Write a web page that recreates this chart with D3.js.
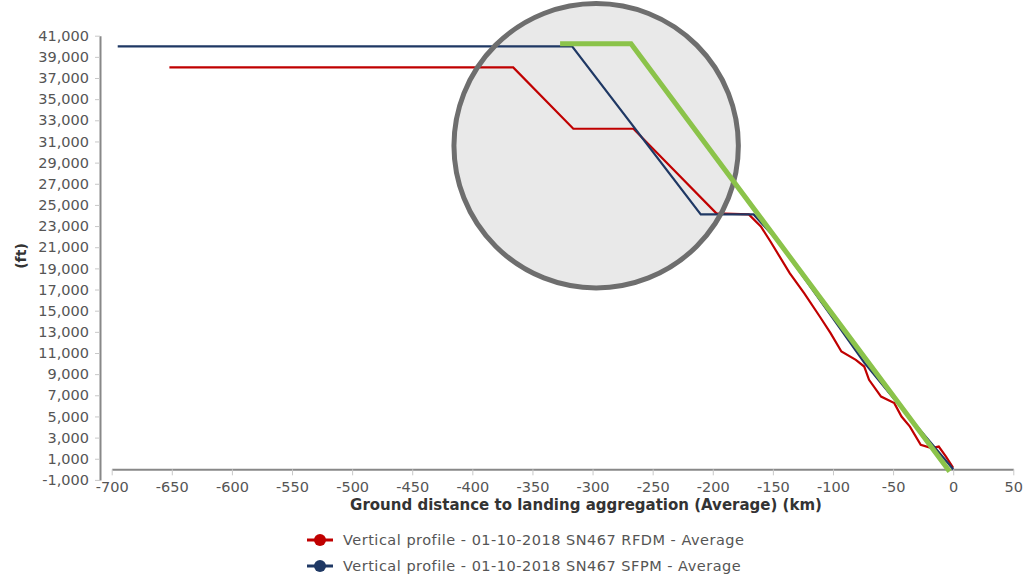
<!DOCTYPE html>
<meta charset="utf-8">
<style>
body { margin: 0; background: #fff; }
text { font-family: "DejaVu Sans", Verdana, sans-serif; }
.tick text { fill: #555; font-size: 14.5px; }
.tick line { stroke: #c8c8c8; }
</style>
<body>
<script src="https://cdn.jsdelivr.net/npm/d3@7"></script>
<script>

// series (km, ft)
var rfdmX = [-652, -600, -550, -500, -450, -400, -366, -316, -266, -197, -170, -160, -152, -136, -124, -111, -102, -93, -81, -74, -70, -60, -49, -43, -36, -27, -18, -12, -6, 0];
var rfdmY = [38000, 38000, 38000, 38000, 38000, 38000, 38000, 32200, 32200, 24200, 24100, 22960, 21540, 18550, 16660, 14450, 12880, 11140, 10350, 9720, 8460, 6880, 6260, 4990, 4040, 2310, 2000, 2150, 1200, 150];

var sfpmX = [-695, -660, -627, -564, -544, -514, -317, -210, -166, -146, -99, -74, -40, 0];
var sfpmY = [40000, 40000, 40000, 40000, 40000, 40000, 40000, 24100, 24100, 21600, 14100, 10100, 5400, 0];

// hand drawn annotation over the chart
var markX = [-327, -268, -3];
var markY = [40250, 40250, -200];
var calloutX = -297, calloutY = 30600, calloutR = 118.3; // r in km

var xTicks = d3.range(-700, 51, 50);
var yTicks = d3.range(-1000, 41001, 2000);

var seriesNames = ["Vertical profile - 01-10-2018 SN467 RFDM - Average",
                   "Vertical profile - 01-10-2018 SN467 SFPM - Average"];
var seriesColors = ["#c00000", "#1f3864"];

var width = 1033, height = 579;

var x = d3.scaleLinear().domain([-700, 50]).range([111.7, 1013.3]);
var y = d3.scaleLinear().domain([-1000, 41000]).range([479.9, 35.7]);

// plain hyphen for negatives, like the original
var fmt = d3.format(",");
function hyph(d) { return fmt(d).replace("\u2212", "-"); }

var svg = d3.select("body").append("svg")
    .attr("width", width)
    .attr("height", height);

// y axis
var yAxis = svg.append("g")
    .attr("transform", "translate(100,0)")
    .call(d3.axisLeft(y).tickValues(yTicks).tickFormat(hyph).tickSize(5).tickSizeOuter(0).tickPadding(6));
yAxis.select(".domain").attr("stroke", "#888").attr("stroke-width", 2);

// x axis sits on 0 ft
var xAxis = svg.append("g")
    .attr("transform", "translate(0," + y(0) + ")")
    .call(d3.axisBottom(x).tickValues(xTicks).tickFormat(hyph).tickSize(6).tickSizeOuter(0).tickPadding(6));
xAxis.select(".domain").attr("stroke", "#888").attr("stroke-width", 2);

svg.append("text")
    .attr("x", 586).attr("y", 510)
    .attr("text-anchor", "middle")
    .style("font-size", "15px").style("font-weight", "bold").attr("fill", "#333")
    .text("Ground distance to landing aggregation (Average) (km)");

svg.append("text")
    .attr("transform", "translate(26,256) rotate(-90)")
    .attr("text-anchor", "middle")
    .style("font-size", "14px").style("font-weight", "bold").attr("fill", "#333")
    .text("(ft)");

var cr = x(calloutX + calloutR) - x(calloutX);

// callout fill under the lines
svg.append("circle")
    .attr("cx", x(calloutX)).attr("cy", y(calloutY)).attr("r", cr)
    .attr("fill", "#e9e9e9");

var line = d3.line()
    .x(function(d) { return x(d[0]); })
    .y(function(d) { return y(d[1]); });

var series = [d3.zip(rfdmX, rfdmY), d3.zip(sfpmX, sfpmY)];

svg.selectAll(".series")
    .data(series)
  .enter().append("path")
    .attr("class", "series")
    .attr("fill", "none")
    .attr("stroke", function(d, i) { return seriesColors[i]; })
    .attr("stroke-width", 2.2)
    .attr("d", line);

svg.append("circle")
    .attr("cx", x(calloutX)).attr("cy", y(calloutY)).attr("r", cr)
    .attr("fill", "none")
    .attr("stroke", "#6e6e6e")
    .attr("stroke-width", 5);

svg.append("path")
    .datum(d3.zip(markX, markY))
    .attr("fill", "none")
    .attr("stroke", "#8bc34a")
    .attr("stroke-width", 5)
    .attr("d", line);

// legend
var legend = svg.selectAll(".legend")
    .data(seriesNames)
  .enter().append("g")
    .attr("class", "legend")
    .attr("transform", function(d, i) { return "translate(307," + (540 + i * 26) + ")"; });

legend.append("line")
    .attr("x1", 0).attr("x2", 26)
    .attr("stroke", function(d, i) { return seriesColors[i]; })
    .attr("stroke-width", 3);
legend.append("circle")
    .attr("cx", 13).attr("r", 6)
    .attr("fill", function(d, i) { return seriesColors[i]; });
legend.append("text")
    .attr("x", 36).attr("dy", "0.35em")
    .style("font-size", "14.5px").style("letter-spacing", "0.5px").attr("fill", "#555")
    .text(function(d) { return d; });

</script>
</body>
